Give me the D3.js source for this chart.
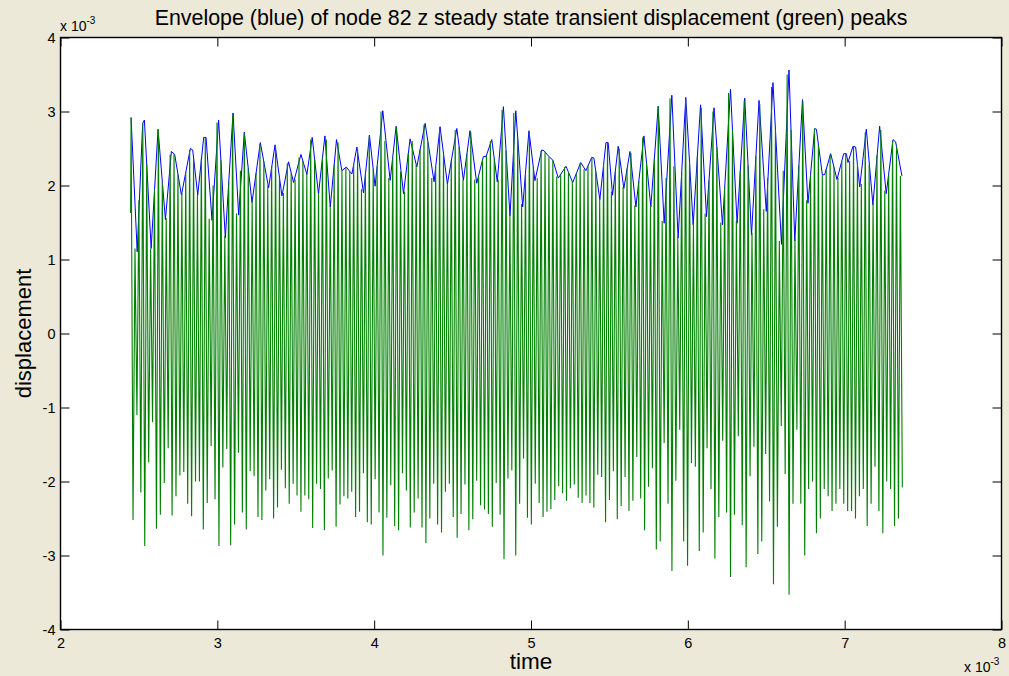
<!DOCTYPE html>
<html>
<head>
<meta charset="utf-8">
<script src="https://cdnjs.cloudflare.com/ajax/libs/d3/7.8.5/d3.min.js"></script>
<style>
  body { margin: 0; background: #ece9d8; }
  svg { display: block; font-family: Arial, "Liberation Sans", sans-serif; }
  .tick line { stroke: #000; }
</style>
</head>
<body>
<svg id="chart" width="1009" height="676"></svg>
<script>
// labels
const titleText = "Envelope (blue) of node 82 z steady state transient displacement (green) peaks";
const xLabel = "time";
const yLabel = "displacement";
const xTicks = [2, 3, 4, 5, 6, 7, 8];
const yTicks = [-4, -3, -2, -1, 0, 1, 2, 3, 4];

// blue envelope, read at its turning points (time and value both x 10^-3)
const envTime = [
  2.450, 2.489, 2.524, 2.535, 2.578, 2.622, 2.669, 2.707, 2.728, 2.771,
  2.828, 2.843, 2.875, 2.913, 2.928, 2.966, 3.008, 3.051, 3.100, 3.136,
  3.172, 3.221, 3.274, 3.327, 3.368, 3.412, 3.454, 3.486, 3.533, 3.571,
  3.605, 3.645, 3.686, 3.720, 3.760, 3.794, 3.822, 3.858, 3.890, 3.932,
  3.970, 4.006, 4.055, 4.102, 4.140, 4.187, 4.229, 4.272, 4.325, 4.382,
  4.420, 4.467, 4.527, 4.569, 4.611, 4.654, 4.696, 4.713, 4.750, 4.785,
  4.824, 4.866, 4.903, 4.947, 4.987, 5.025, 5.068, 5.083, 5.110, 5.140,
  5.174, 5.223, 5.266, 5.317, 5.350, 5.387, 5.401, 5.439, 5.478, 5.492,
  5.520, 5.556, 5.592, 5.631, 5.669, 5.720, 5.764, 5.811, 5.849, 5.898,
  5.938, 5.987, 6.034, 6.081, 6.119, 6.167, 6.221, 6.272, 6.314, 6.363,
  6.406, 6.454, 6.500, 6.543, 6.597, 6.645, 6.682, 6.731, 6.766, 6.809,
  6.820, 6.858, 6.873, 6.911, 6.951, 6.994, 7.011, 7.021, 7.053, 7.070,
  7.096, 7.138, 7.180, 7.223, 7.265, 7.308, 7.325, 7.365
];
const envValue = [
  2.92, 1.105, 2.84, 2.885, 1.15, 2.76, 1.54, 2.46, 2.42, 1.87,
  2.50, 2.48, 1.87, 2.65, 2.65, 1.53, 2.885, 1.295, 2.98, 1.60,
  2.72, 1.77, 2.58, 1.97, 2.55, 1.86, 2.32, 2.04, 2.42, 2.15,
  2.65, 1.885, 2.67, 1.71, 2.62, 2.20, 2.25, 2.155, 2.52, 1.90,
  2.68, 1.99, 3.01, 2.07, 2.80, 1.89, 2.63, 2.25, 2.84, 2.05,
  2.795, 2.02, 2.77, 2.07, 2.74, 2.03, 2.39, 2.39, 2.62, 2.05,
  3.065, 1.59, 3.01, 1.71, 2.74, 2.065, 2.48, 2.47, 2.40, 2.34,
  2.10, 2.26, 2.04, 2.31, 2.20, 2.38, 2.37, 1.81, 2.58, 2.58,
  1.87, 2.53, 1.96, 2.46, 1.71, 2.67, 1.71, 3.07, 1.49, 3.22,
  1.29, 3.19, 1.47, 3.09, 1.58, 3.05, 1.47, 3.30, 1.49, 3.18,
  1.33, 3.15, 1.65, 3.39, 1.205, 3.56, 1.25, 3.16, 1.76, 2.77,
  2.76, 2.14, 2.15, 2.43, 2.08, 2.43, 2.43, 2.31, 2.53, 2.52,
  1.98, 2.76, 1.74, 2.80, 1.89, 2.62, 2.59, 2.13
];

// green signal: one cycle per step, positive peak then negative trough
const cycleStart = 2.450;
const cycleStep = 0.0249;
const greenFirst = 1.63;
const peakValue = [
  2.92, 1.15, 1.80, 2.84, 2.29, 1.15, 1.95, 2.75, 2.04, 1.56,
  2.42, 2.43, 2.15, 1.90, 2.18, 2.48, 2.36, 1.88, 2.36, 2.65,
  1.55, 2.00, 2.85, 2.34, 1.32, 2.05, 2.95, 1.62, 2.20, 2.71,
  2.23, 1.79, 2.17, 2.56, 2.32, 2.00, 2.26, 2.53, 2.10, 1.90,
  2.30, 2.17, 2.08, 2.38, 2.33, 2.16, 2.62, 2.35, 1.90, 2.38,
  2.62, 1.72, 2.28, 2.58, 2.20, 2.25, 2.19, 2.29, 2.48, 1.95,
  2.16, 2.68, 2.22, 2.26, 3.00, 2.60, 2.10, 2.38, 2.78, 2.19,
  1.92, 2.44, 2.60, 2.28, 2.49, 2.82, 2.59, 2.10, 2.25, 2.78,
  2.43, 2.03, 2.34, 2.75, 2.52, 2.08, 2.43, 2.72, 2.08, 2.13,
  2.35, 2.41, 2.60, 2.36, 2.08, 3.02, 2.47, 1.61, 2.98, 2.64,
  1.75, 2.16, 2.72, 2.25, 2.10, 2.47, 2.45, 2.39, 2.34, 2.12,
  2.15, 2.25, 2.18, 2.05, 2.16, 2.30, 2.22, 2.27, 2.38, 2.19,
  1.82, 2.29, 2.58, 1.92, 2.19, 2.50, 1.98, 2.23, 2.44, 1.73,
  2.06, 2.65, 2.30, 1.73, 2.36, 3.07, 1.52, 2.10, 3.18, 2.26,
  1.30, 2.18, 3.17, 2.32, 1.48, 2.39, 3.05, 1.62, 2.07, 3.00,
  2.52, 1.50, 1.98, 3.25, 2.75, 1.52, 2.20, 3.15, 2.27, 1.36,
  2.40, 3.10, 1.68, 2.10, 3.33, 2.76, 1.25, 2.20, 3.50, 2.75,
  1.28, 2.27, 3.14, 1.80, 2.15, 2.76, 2.55, 2.14, 2.22, 2.42,
  2.25, 2.10, 2.33, 2.43, 2.33, 2.53, 2.29, 2.02, 2.72, 2.28,
  1.76, 2.41, 2.75, 1.93, 2.15, 2.60, 2.53, 2.13
];
const troughValue = [
  -2.52, -1.10, -2.15, -2.87, -1.74, -1.20, -2.64, -2.45, -2.02, -1.55,
  -2.46, -2.20, -1.92, -1.87, -2.30, -2.47, -2.00, -2.00, -2.65, -2.29,
  -1.52, -2.24, -2.87, -1.81, -1.56, -2.86, -2.58, -1.61, -2.42, -2.65,
  -1.86, -1.93, -2.48, -2.52, -2.12, -1.97, -2.50, -2.35, -1.84, -2.09,
  -2.30, -2.03, -2.19, -2.41, -2.19, -2.24, -2.63, -2.03, -2.10, -2.66,
  -1.96, -1.85, -2.61, -2.31, -2.20, -2.23, -2.14, -2.48, -2.41, -1.89,
  -2.55, -2.58, -1.97, -2.42, -3.00, -2.49, -2.05, -2.60, -2.66, -1.89,
  -2.12, -2.62, -2.42, -2.23, -2.62, -2.83, -2.50, -2.03, -2.58, -2.69,
  -2.14, -2.03, -2.48, -2.76, -2.44, -2.04, -2.66, -2.51, -1.99, -2.32,
  -2.38, -2.44, -2.61, -2.02, -2.45, -3.05, -1.96, -1.85, -3.00, -2.30,
  -1.69, -2.49, -2.58, -2.03, -2.29, -2.48, -2.41, -2.37, -2.25, -2.06,
  -2.16, -2.26, -2.09, -2.04, -2.22, -2.29, -2.19, -2.29, -2.35, -1.91,
  -1.94, -2.55, -2.25, -1.86, -2.51, -2.33, -1.94, -2.40, -2.26, -1.67,
  -2.23, -2.66, -2.07, -1.82, -2.92, -2.81, -1.48, -2.30, -3.21, -1.99,
  -1.30, -2.81, -3.14, -1.75, -1.80, -2.94, -2.69, -1.55, -2.10, -3.04,
  -2.48, -1.45, -2.42, -3.29, -2.45, -1.39, -2.59, -3.16, -1.93, -1.53,
  -2.98, -2.81, -1.63, -2.27, -3.39, -2.61, -1.25, -1.90, -3.53, -2.30,
  -1.30, -2.30, -3.00, -2.10, -2.00, -2.70, -2.50, -2.10, -2.20, -2.40,
  -2.30, -2.10, -2.30, -2.40, -2.40, -2.50, -2.20, -2.10, -2.60, -2.30,
  -1.80, -2.40, -2.70, -2.00, -2.10, -2.60, -2.50, -2.08
];

var svg = d3.select("#chart");
// plot box edges (names kept off window.top etc.)
var boxL = 60.5, boxR = 1001.5, boxT = 37.5, boxB = 629.5;

var x = d3.scaleLinear().domain([2, 8]).range([boxL, boxR]);
var y = d3.scaleLinear().domain([-4, 4]).range([boxB, boxT]);

// white plot box
svg.append("rect")
  .attr("x", boxL).attr("y", boxT)
  .attr("width", boxR - boxL).attr("height", boxB - boxT)
  .attr("fill", "#fff");

// series
var envPts = envTime.map(function(t, i) { return [t, envValue[i]]; });
var greenPts = [[cycleStart - 0.003, greenFirst]];
peakValue.forEach(function(v, i) {
  var t = cycleStart + i * cycleStep;
  greenPts.push([t, v]);
  greenPts.push([t + cycleStep / 2, troughValue[i]]);
});

var line = d3.line()
  .x(function(d) { return x(d[0]); })
  .y(function(d) { return y(d[1]); });

svg.append("path").datum(envPts)
  .attr("d", line)
  .attr("fill", "none")
  .attr("stroke", "#0000ff")
  .attr("stroke-width", 1);

svg.append("path").datum(greenPts)
  .attr("d", line)
  .attr("fill", "none")
  .attr("stroke", "#008000")
  .attr("stroke-width", 1.1);

// axes, ticks pointing inward on all four sides
var tk = 9;
var fmt = function(d) { return String(d); };   // plain hyphen minus like the original
function tidy(g) {
  g.select(".domain").remove();
  g.attr("font-size", 14.5).attr("font-family", null);
}
svg.append("g").attr("transform", "translate(0," + boxB + ")")
  .call(d3.axisBottom(x).tickValues(xTicks).tickFormat(fmt).tickSizeInner(-tk).tickSizeOuter(0).tickPadding(8))
  .call(tidy);
svg.append("g").attr("transform", "translate(0," + boxT + ")")
  .call(d3.axisTop(x).tickValues(xTicks).tickSizeInner(-tk).tickSizeOuter(0).tickFormat(""))
  .call(tidy);
svg.append("g").attr("transform", "translate(" + boxL + ",0)")
  .call(d3.axisLeft(y).tickValues(yTicks).tickFormat(fmt).tickSizeInner(-tk).tickSizeOuter(0).tickPadding(5))
  .call(tidy);
svg.append("g").attr("transform", "translate(" + boxR + ",0)")
  .call(d3.axisRight(y).tickValues(yTicks).tickSizeInner(-tk).tickSizeOuter(0).tickFormat(""))
  .call(tidy);

svg.append("rect")
  .attr("x", boxL).attr("y", boxT)
  .attr("width", boxR - boxL).attr("height", boxB - boxT)
  .attr("fill", "none")
  .attr("stroke", "#000")
  .attr("stroke-width", 1.4);

// exponent notes
function expNote(px, py) {
  var t = svg.append("text").attr("x", px).attr("y", py)
    .attr("font-size", 14).attr("fill", "#000");
  t.append("tspan").text("x 10");
  t.append("tspan").attr("dy", -7).attr("font-size", 10).text("-3");
}
expNote(60, 31);
expNote(964, 672);

// title and axis labels
svg.append("text")
  .attr("x", (boxL + boxR) / 2).attr("y", 25)
  .attr("text-anchor", "middle")
  .attr("font-size", 21.4).attr("fill", "#000")
  .text(titleText);

svg.append("text")
  .attr("x", (boxL + boxR) / 2).attr("y", 669)
  .attr("text-anchor", "middle")
  .attr("font-size", 22.5).attr("fill", "#000")
  .text(xLabel);

svg.append("text")
  .attr("transform", "translate(31," + (boxT + boxB) / 2 + ") rotate(-90)")
  .attr("text-anchor", "middle")
  .attr("font-size", 22).attr("fill", "#000")
  .text(yLabel);
</script>
</body>
</html>
